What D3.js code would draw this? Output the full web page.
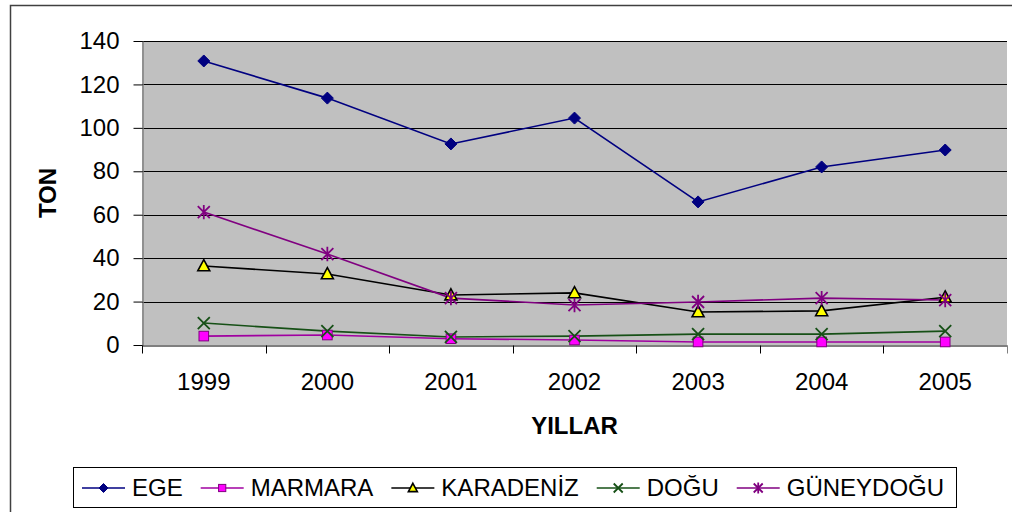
<!DOCTYPE html>
<html>
<head>
<meta charset="utf-8">
<script src="https://cdn.jsdelivr.net/npm/d3@7"></script>
<style>
  body { margin: 0; background: #fff; }
  svg { display: block; font-family: "Liberation Sans", Arial, sans-serif; }
</style>
</head>
<body>
<svg id="chart" width="1012" height="512"></svg>
<script>
// years on the x axis
const years = ['1999', '2000', '2001', '2002', '2003', '2004', '2005'];
const yTicks = [0, 20, 40, 60, 80, 100, 120, 140];

// values in tons
const ege = [130.8, 113.7, 92.6, 104.5, 65.9, 82, 89.8];
const marmara = [4.1, 4.6, 2.9, 2.3, 1.4, 1.4, 1.4];
const karadeniz = [36.4, 32.7, 23, 24, 15.2, 15.7, 22];
const dogu = [10.1, 6.4, 3.7, 4.1, 5, 5, 6.4];
const guneydogu = [61.2, 41.9, 21.6, 18.4, 19.8, 21.6, 20.7];

const series = [
    { name: 'EGE', values: ege, line: '#000080', marker: 'diamond', fill: '#000080', stroke: '#000080' },
    { name: 'MARMARA', values: marmara, line: '#A000A0', marker: 'square', fill: '#FF00FF', stroke: '#800080' },
    { name: 'KARADENİZ', values: karadeniz, line: '#000000', marker: 'triangle', fill: '#FFFF00', stroke: '#000000' },
    { name: 'DOĞU', values: dogu, line: '#165016', marker: 'x', fill: 'none', stroke: '#165016' },
    { name: 'GÜNEYDOĞU', values: guneydogu, line: '#800080', marker: 'star', fill: 'none', stroke: '#800080' }
];

const svg = d3.select('#chart');
const plot = { left: 142, top: 41, right: 1007, bottom: 345 };
const fontSize = 24;

// outer chart frame (runs off the right and bottom of the window)
svg.append('rect')
    .attr('x', 10.5).attr('y', 5.5)
    .attr('width', 1020).attr('height', 530)
    .attr('fill', '#fff')
    .attr('stroke', '#404040')
    .attr('stroke-width', 1.5);

const x = d3.scaleBand().domain(years).range([plot.left, plot.right]);
const y = d3.scaleLinear().domain([0, 140]).range([plot.bottom, plot.top]);

svg.append('rect')
    .attr('x', plot.left).attr('y', plot.top)
    .attr('width', plot.right - plot.left).attr('height', plot.bottom - plot.top)
    .attr('fill', '#C0C0C0');

// gridlines
svg.append('g')
    .selectAll('line')
    .data(yTicks.filter(d => d > 0))
    .join('line')
    .attr('x1', plot.left).attr('x2', plot.right)
    .attr('y1', d => Math.round(y(d)) + 0.5).attr('y2', d => Math.round(y(d)) + 0.5)
    .attr('stroke', '#000')
    .attr('stroke-width', 1);

// y axis
const yAxis = svg.append('g')
    .attr('transform', `translate(${plot.left + 0.5},0)`)
    .call(d3.axisLeft(y).tickValues(yTicks).tickSize(9).tickPadding(14).tickSizeOuter(0));
yAxis.select('.domain').attr('stroke', '#808080').attr('stroke-width', 1.5);
yAxis.selectAll('.tick line').attr('stroke', '#000');
yAxis.selectAll('.tick text')
    .attr('font-size', fontSize)
    .attr('font-family', '"Liberation Sans", Arial, sans-serif')
    .attr('fill', '#000');

// x axis, ticks between categories
const xAxis = svg.append('g')
    .attr('transform', `translate(0,${plot.bottom + 0.5})`)
    .call(d3.axisBottom(x).tickSize(0).tickPadding(27));
xAxis.select('.domain').attr('stroke', '#000').attr('stroke-width', 1.2);
xAxis.selectAll('.tick text')
    .attr('font-size', fontSize)
    .attr('font-family', '"Liberation Sans", Arial, sans-serif')
    .attr('fill', '#000');
xAxis.append('g')
    .selectAll('line')
    .data(years.concat(['end']))
    .join('line')
    .attr('x1', (d, i) => Math.round(plot.left + i * x.step()) + 0.5)
    .attr('x2', (d, i) => Math.round(plot.left + i * x.step()) + 0.5)
    .attr('y1', 0).attr('y2', 8)
    .attr('stroke', d => d === 'end' ? '#808080' : '#000');

// axis titles
svg.append('text')
    .attr('transform', `translate(56,${(plot.top + plot.bottom) / 2}) rotate(-90)`)
    .attr('text-anchor', 'middle')
    .attr('font-size', fontSize)
    .attr('font-weight', 'bold')
    .text('TON');

svg.append('text')
    .attr('x', (plot.left + plot.right) / 2)
    .attr('y', 434)
    .attr('text-anchor', 'middle')
    .attr('font-size', fontSize)
    .attr('font-weight', 'bold')
    .text('YILLAR');

function drawMarker(g, type, fill, stroke, s) {
    if (type === 'diamond') {
        g.append('path').attr('d', `M0,${-s}L${s},0L0,${s}L${-s},0Z`)
            .attr('fill', fill).attr('stroke', stroke).attr('stroke-width', 1);
    } else if (type === 'square') {
        const h = s * 0.8;
        g.append('rect').attr('x', -h).attr('y', -h).attr('width', 2 * h).attr('height', 2 * h)
            .attr('fill', fill).attr('stroke', stroke).attr('stroke-width', 1);
    } else if (type === 'triangle') {
        g.append('path').attr('d', `M0,${-s * 1.05}L${s},${s * 0.8}L${-s},${s * 0.8}Z`)
            .attr('fill', fill).attr('stroke', stroke).attr('stroke-width', 1.6);
    } else if (type === 'x') {
        g.append('path').attr('d', `M${-s},${-s}L${s},${s}M${-s},${s}L${s},${-s}`)
            .attr('fill', 'none').attr('stroke', stroke).attr('stroke-width', 1.8);
    } else if (type === 'star') {
        g.append('path').attr('d', `M${-s},${-s}L${s},${s}M${-s},${s}L${s},${-s}M0,${-s * 1.2}L0,${s * 1.2}`)
            .attr('fill', 'none').attr('stroke', stroke).attr('stroke-width', 1.8);
    }
}

const line = d3.line()
    .x((d, i) => x(years[i]) + x.bandwidth() / 2)
    .y(d => y(d));

series.forEach(s => {
    svg.append('path')
        .datum(s.values)
        .attr('d', line)
        .attr('fill', 'none')
        .attr('stroke', s.line)
        .attr('stroke-width', 1.6);
});

series.forEach(s => {
    svg.append('g')
        .selectAll('g')
        .data(s.values)
        .join('g')
        .attr('transform', (d, i) => `translate(${x(years[i]) + x.bandwidth() / 2},${y(d)})`)
        .each(function() { drawMarker(d3.select(this), s.marker, s.fill, s.stroke, 6); });
});

// legend
const legend = svg.append('g');
legend.append('rect')
    .attr('x', 73.5).attr('y', 467.5)
    .attr('width', 883).attr('height', 40)
    .attr('fill', '#fff')
    .attr('stroke', '#000')
    .attr('stroke-width', 1);

let lx = 82;
const ly = 488;
series.forEach(s => {
    const item = legend.append('g');
    item.append('line')
        .attr('x1', lx).attr('x2', lx + 43)
        .attr('y1', ly).attr('y2', ly)
        .attr('stroke', s.line).attr('stroke-width', 1.6);
    const m = item.append('g').attr('transform', `translate(${lx + 21.5},${ly})`);
    drawMarker(m, s.marker, s.fill, s.stroke, 4.5);
    const t = item.append('text')
        .attr('x', lx + 50).attr('y', ly + 8)
        .attr('font-size', fontSize)
        .text(s.name);
    lx += 50 + t.node().getComputedTextLength() + 18;
});
</script>
</body>
</html>
